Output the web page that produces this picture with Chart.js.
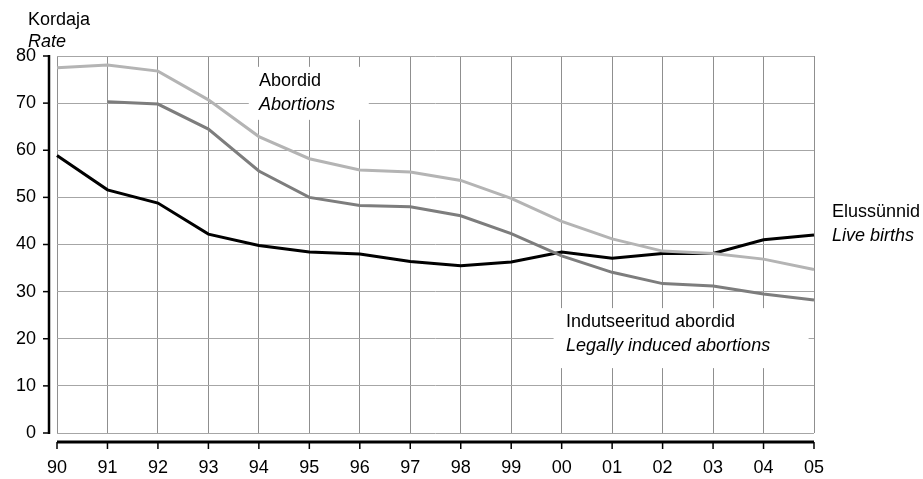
<!DOCTYPE html>
<html>
<head>
<meta charset="utf-8">
<script src="https://cdn.jsdelivr.net/npm/chart.js@4/dist/chart.umd.min.js"></script>
<style>
  html, body { margin: 0; padding: 0; background: #fff; }
  #wrap { width: 923px; height: 479px; position: relative; }
</style>
</head>
<body>
<div id="wrap"><canvas id="myChart" width="923" height="479"></canvas></div>
<script>
const years = ['90', '91', '92', '93', '94', '95', '96', '97', '98', '99', '00', '01', '02', '03', '04', '05'];
const abortions = [77.5, 78.1, 76.8, 70.7, 62.9, 58.2, 55.8, 55.4, 53.6, 49.8, 44.9, 41.2, 38.6, 38.1, 36.9, 34.7];
const inducedAbortions = [null, 70.3, 69.8, 64.5, 55.6, 50.0, 48.3, 48.0, 46.1, 42.3, 37.6, 34.1, 31.7, 31.2, 29.5, 28.2];
const liveBirths = [58.9, 51.6, 48.8, 42.2, 39.8, 38.4, 38.0, 36.4, 35.5, 36.3, 38.4, 37.1, 38.1, 38.1, 41.0, 42.0];
const yTicks = [0, 10, 20, 30, 40, 50, 60, 70, 80];

const FONT = '"Liberation Sans", Arial, sans-serif';
const SIZE = 18;
Chart.defaults.font.family = FONT;
Chart.defaults.font.size = SIZE;
Chart.defaults.color = '#000';

// white boxes under the series labels (grid hidden, lines stay on top)
const boxes = {
    id: 'boxes',
    beforeDatasetsDraw(chart) {
        const ctx = chart.ctx;
        const x = chart.scales.x;
        const y = chart.scales.y;
        ctx.save();
        ctx.fillStyle = '#fff';
        ctx.fillRect(x.getPixelForValue(3.8), y.getPixelForValue(77.7), 120, 53);
        ctx.fillRect(x.getPixelForValue(9.84), y.getPixelForValue(26.5), 255, 60);
        ctx.restore();
    }
};

// labels, axis title and the offset axis lines
const extras = {
    id: 'extras',
    afterDatasetsDraw(chart) {
        const ctx = chart.ctx;
        const x = chart.scales.x;
        const y = chart.scales.y;
        const area = chart.chartArea;
        ctx.save();

        ctx.fillStyle = '#000';
        ctx.textAlign = 'left';
        ctx.textBaseline = 'alphabetic';
        const put = (txt, px, py, italic) => {
            ctx.font = (italic ? 'italic ' : '') + SIZE + 'px ' + FONT;
            ctx.fillText(txt, px, py);
        };
        put('Kordaja', 28, 25, false);
        put('Rate', 28, 47, true);
        put('Abordid', 259, 86, false);
        put('Abortions', 259, 110, true);
        put('Indutseeritud abordid', 566, 327, false);
        put('Legally induced abortions', 566, 351, true);
        put('Elussünnid', 832, 217, false);
        put('Live births', 832, 241, true);

        // y axis line with ticks to the left
        ctx.strokeStyle = '#000';
        ctx.lineWidth = 2.5;
        ctx.beginPath();
        ctx.moveTo(area.left - 8, y.getPixelForValue(80) - 1);
        ctx.lineTo(area.left - 8, y.getPixelForValue(0) + 1);
        ctx.stroke();
        ctx.lineWidth = 1.5;
        yTicks.forEach(v => {
            const py = y.getPixelForValue(v);
            ctx.beginPath();
            ctx.moveTo(area.left - 14, py);
            ctx.lineTo(area.left - 8, py);
            ctx.stroke();
        });

        // x axis line with ticks downward
        const ax = area.bottom + 9;
        ctx.lineWidth = 3;
        ctx.beginPath();
        ctx.moveTo(area.left, ax);
        ctx.lineTo(area.right, ax);
        ctx.stroke();
        ctx.lineWidth = 1.5;
        years.forEach((t, i) => {
            const px = x.getPixelForValue(i);
            ctx.beginPath();
            ctx.moveTo(px, ax);
            ctx.lineTo(px, ax + 7);
            ctx.stroke();
        });
        ctx.restore();
    }
};

const ctx = document.getElementById('myChart').getContext('2d');
new Chart(ctx, {
    type: 'line',
    data: {
        labels: years,
        datasets: [{
            label: 'Abordid',
            data: abortions,
            borderColor: '#b4b4b4',
            borderWidth: 3,
            pointRadius: 0,
            tension: 0
        }, {
            label: 'Indutseeritud abordid',
            data: inducedAbortions,
            borderColor: '#7d7d7d',
            borderWidth: 3,
            pointRadius: 0,
            tension: 0
        }, {
            label: 'Elussünnid',
            data: liveBirths,
            borderColor: '#000000',
            borderWidth: 3,
            pointRadius: 0,
            tension: 0
        }]
    },
    options: {
        responsive: false,
        animation: false,
        layout: { padding: { left: 0, right: 109, top: 56, bottom: 0 } },
        plugins: {
            legend: { display: false },
            tooltip: { enabled: false }
        },
        scales: {
            x: {
                offset: false,
                border: { display: false },
                grid: { color: '#8f8f8f', lineWidth: 1, drawTicks: false },
                ticks: { padding: 24, maxRotation: 0, autoSkip: false, color: '#000' },
                afterFit(scale) { scale.height = 46; }
            },
            y: {
                min: 0,
                max: 80,
                border: { display: false },
                grid: { color: '#a6a6a6', lineWidth: 1, drawTicks: false },
                ticks: { stepSize: 10, padding: 21, color: '#000' },
                afterFit(scale) { scale.width = 57; }
            }
        }
    },
    plugins: [boxes, extras]
});
</script>
</body>
</html>
